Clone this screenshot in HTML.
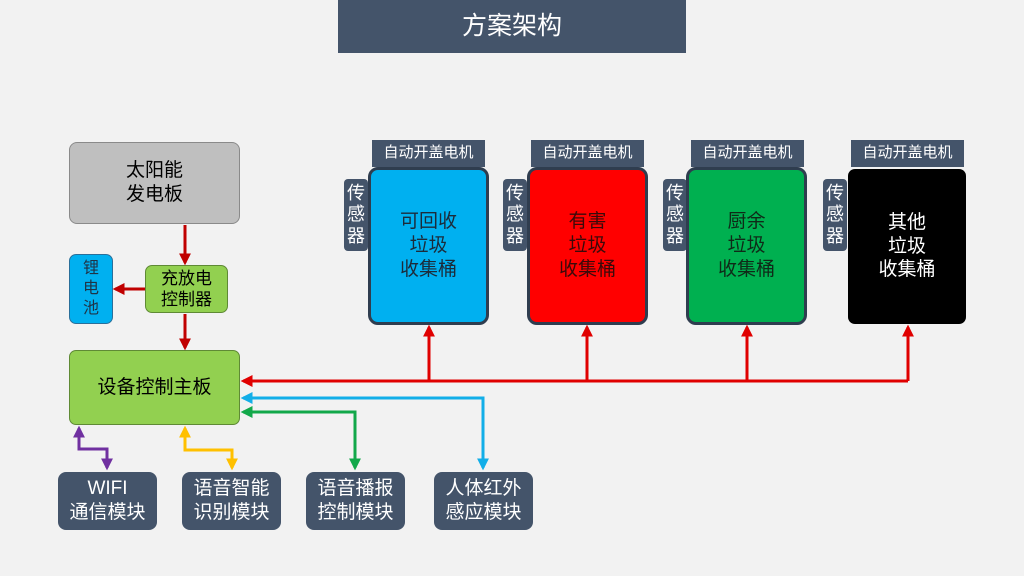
<!DOCTYPE html>
<html><head><meta charset="utf-8"><style>
*{margin:0;padding:0;box-sizing:border-box}
body{width:1024px;height:576px;background:#f2f2f2;position:relative;overflow:hidden;font-family:"Liberation Sans","Noto Sans CJK SC",sans-serif}
.b{position:absolute;display:flex;align-items:center;justify-content:center;text-align:center;line-height:1.25}
.dk{background:#44546a;color:#fff;border-radius:8px;font-size:19px}
.hd{background:#44546a;color:#fff;font-size:15px}
.sn{background:#44546a;color:#fff;font-size:18px;border-radius:4px;line-height:1.2}
.bin{border:3px solid #2f3d4f;border-radius:10px;font-size:19px}
svg{position:absolute;left:0;top:0}
</style></head><body>
<div class="b" style="left:338px;top:0;width:348px;height:53px;background:#44546a;color:#fff;font-size:25px">方案架构</div>

<div class="b" style="left:69px;top:142px;width:171px;height:82px;background:#bfbfbf;border:1px solid #8a8a8a;border-radius:8px;font-size:19px">太阳能<br>发电板</div>
<div class="b" style="left:69px;top:254px;width:44px;height:70px;background:#00b0f0;border:1px solid #2a6f9a;border-radius:7px;font-size:16px;color:#1f3346">锂<br>电<br>池</div>
<div class="b" style="left:145px;top:265px;width:83px;height:48px;background:#92d050;border:1px solid #5f8a35;border-radius:7px;font-size:17px">充放电<br>控制器</div>
<div class="b" style="left:69px;top:350px;width:171px;height:75px;background:#92d050;border:1px solid #5f8a35;border-radius:7px;font-size:19px">设备控制主板</div>

<div class="b dk" style="left:58px;top:472px;width:99px;height:58px">WIFI<br>通信模块</div>
<div class="b dk" style="left:182px;top:472px;width:99px;height:58px">语音智能<br>识别模块</div>
<div class="b dk" style="left:306px;top:472px;width:99px;height:58px">语音播报<br>控制模块</div>
<div class="b dk" style="left:434px;top:472px;width:99px;height:58px">人体红外<br>感应模块</div>

<div class="b hd" style="left:372px;top:140px;width:113px;height:27px">自动开盖电机</div>
<div class="b sn" style="left:344px;top:179px;width:24px;height:72px">传<br>感<br>器</div>
<div class="b bin" style="left:368px;top:167px;width:121px;height:158px;background:#00b0f0;color:#1c2b3a">可回收<br>垃圾<br>收集桶</div>

<div class="b hd" style="left:531px;top:140px;width:113px;height:27px">自动开盖电机</div>
<div class="b sn" style="left:503px;top:179px;width:24px;height:72px">传<br>感<br>器</div>
<div class="b bin" style="left:527px;top:167px;width:121px;height:158px;background:#ff0000;color:#3a0a0a">有害<br>垃圾<br>收集桶</div>

<div class="b hd" style="left:691px;top:140px;width:113px;height:27px">自动开盖电机</div>
<div class="b sn" style="left:663px;top:179px;width:24px;height:72px">传<br>感<br>器</div>
<div class="b bin" style="left:686px;top:167px;width:121px;height:158px;background:#00b050;color:#0f2a18">厨余<br>垃圾<br>收集桶</div>

<div class="b hd" style="left:851px;top:140px;width:113px;height:27px">自动开盖电机</div>
<div class="b sn" style="left:823px;top:179px;width:24px;height:72px">传<br>感<br>器</div>
<div class="b" style="left:848px;top:169px;width:118px;height:155px;background:#000;color:#fff;border-radius:7px;font-size:19px">其他<br>垃圾<br>收集桶</div>

<svg width="1024" height="576">
<defs>
<marker id="r" viewBox="0 0 10 10" refX="8" refY="5" markerWidth="4" markerHeight="4" orient="auto"><path d="M0,0L10,5L0,10z" fill="#e00000"/></marker>
<marker id="dr" viewBox="0 0 10 10" refX="8" refY="5" markerWidth="4" markerHeight="4" orient="auto"><path d="M0,0L10,5L0,10z" fill="#c00000"/></marker>
<marker id="bl" viewBox="0 0 10 10" refX="8" refY="5" markerWidth="4" markerHeight="4" orient="auto-start-reverse"><path d="M0,0L10,5L0,10z" fill="#12aee8"/></marker>
<marker id="gr" viewBox="0 0 10 10" refX="8" refY="5" markerWidth="4" markerHeight="4" orient="auto-start-reverse"><path d="M0,0L10,5L0,10z" fill="#12a84a"/></marker>
<marker id="pu" viewBox="0 0 10 10" refX="8" refY="5" markerWidth="4" markerHeight="4" orient="auto-start-reverse"><path d="M0,0L10,5L0,10z" fill="#7030a0"/></marker>
<marker id="ye" viewBox="0 0 10 10" refX="8" refY="5" markerWidth="4" markerHeight="4" orient="auto-start-reverse"><path d="M0,0L10,5L0,10z" fill="#ffc000"/></marker>
</defs>
<g fill="none" stroke-width="3">
<path d="M185 225V263" stroke="#c00000" marker-end="url(#dr)"/>
<path d="M145 289H115" stroke="#c00000" marker-end="url(#dr)"/>
<path d="M185 314V348" stroke="#c00000" marker-end="url(#dr)"/>
<path d="M908 381H243" stroke="#e00000" marker-end="url(#r)"/>
<path d="M429 381V327" stroke="#e00000" marker-end="url(#r)"/>
<path d="M587 381V327" stroke="#e00000" marker-end="url(#r)"/>
<path d="M747 381V327" stroke="#e00000" marker-end="url(#r)"/>
<path d="M908 381V327" stroke="#e00000" marker-end="url(#r)"/>
<path d="M243 398H483V468" stroke="#12aee8" marker-start="url(#bl)" marker-end="url(#bl)"/>
<path d="M243 412H355V468" stroke="#12a84a" marker-start="url(#gr)" marker-end="url(#gr)"/>
<path d="M79 428V449H107V468" stroke="#7030a0" marker-start="url(#pu)" marker-end="url(#pu)"/>
<path d="M185 428V450H232V468" stroke="#ffc000" marker-start="url(#ye)" marker-end="url(#ye)"/>
</g>
</svg>
</body></html>
